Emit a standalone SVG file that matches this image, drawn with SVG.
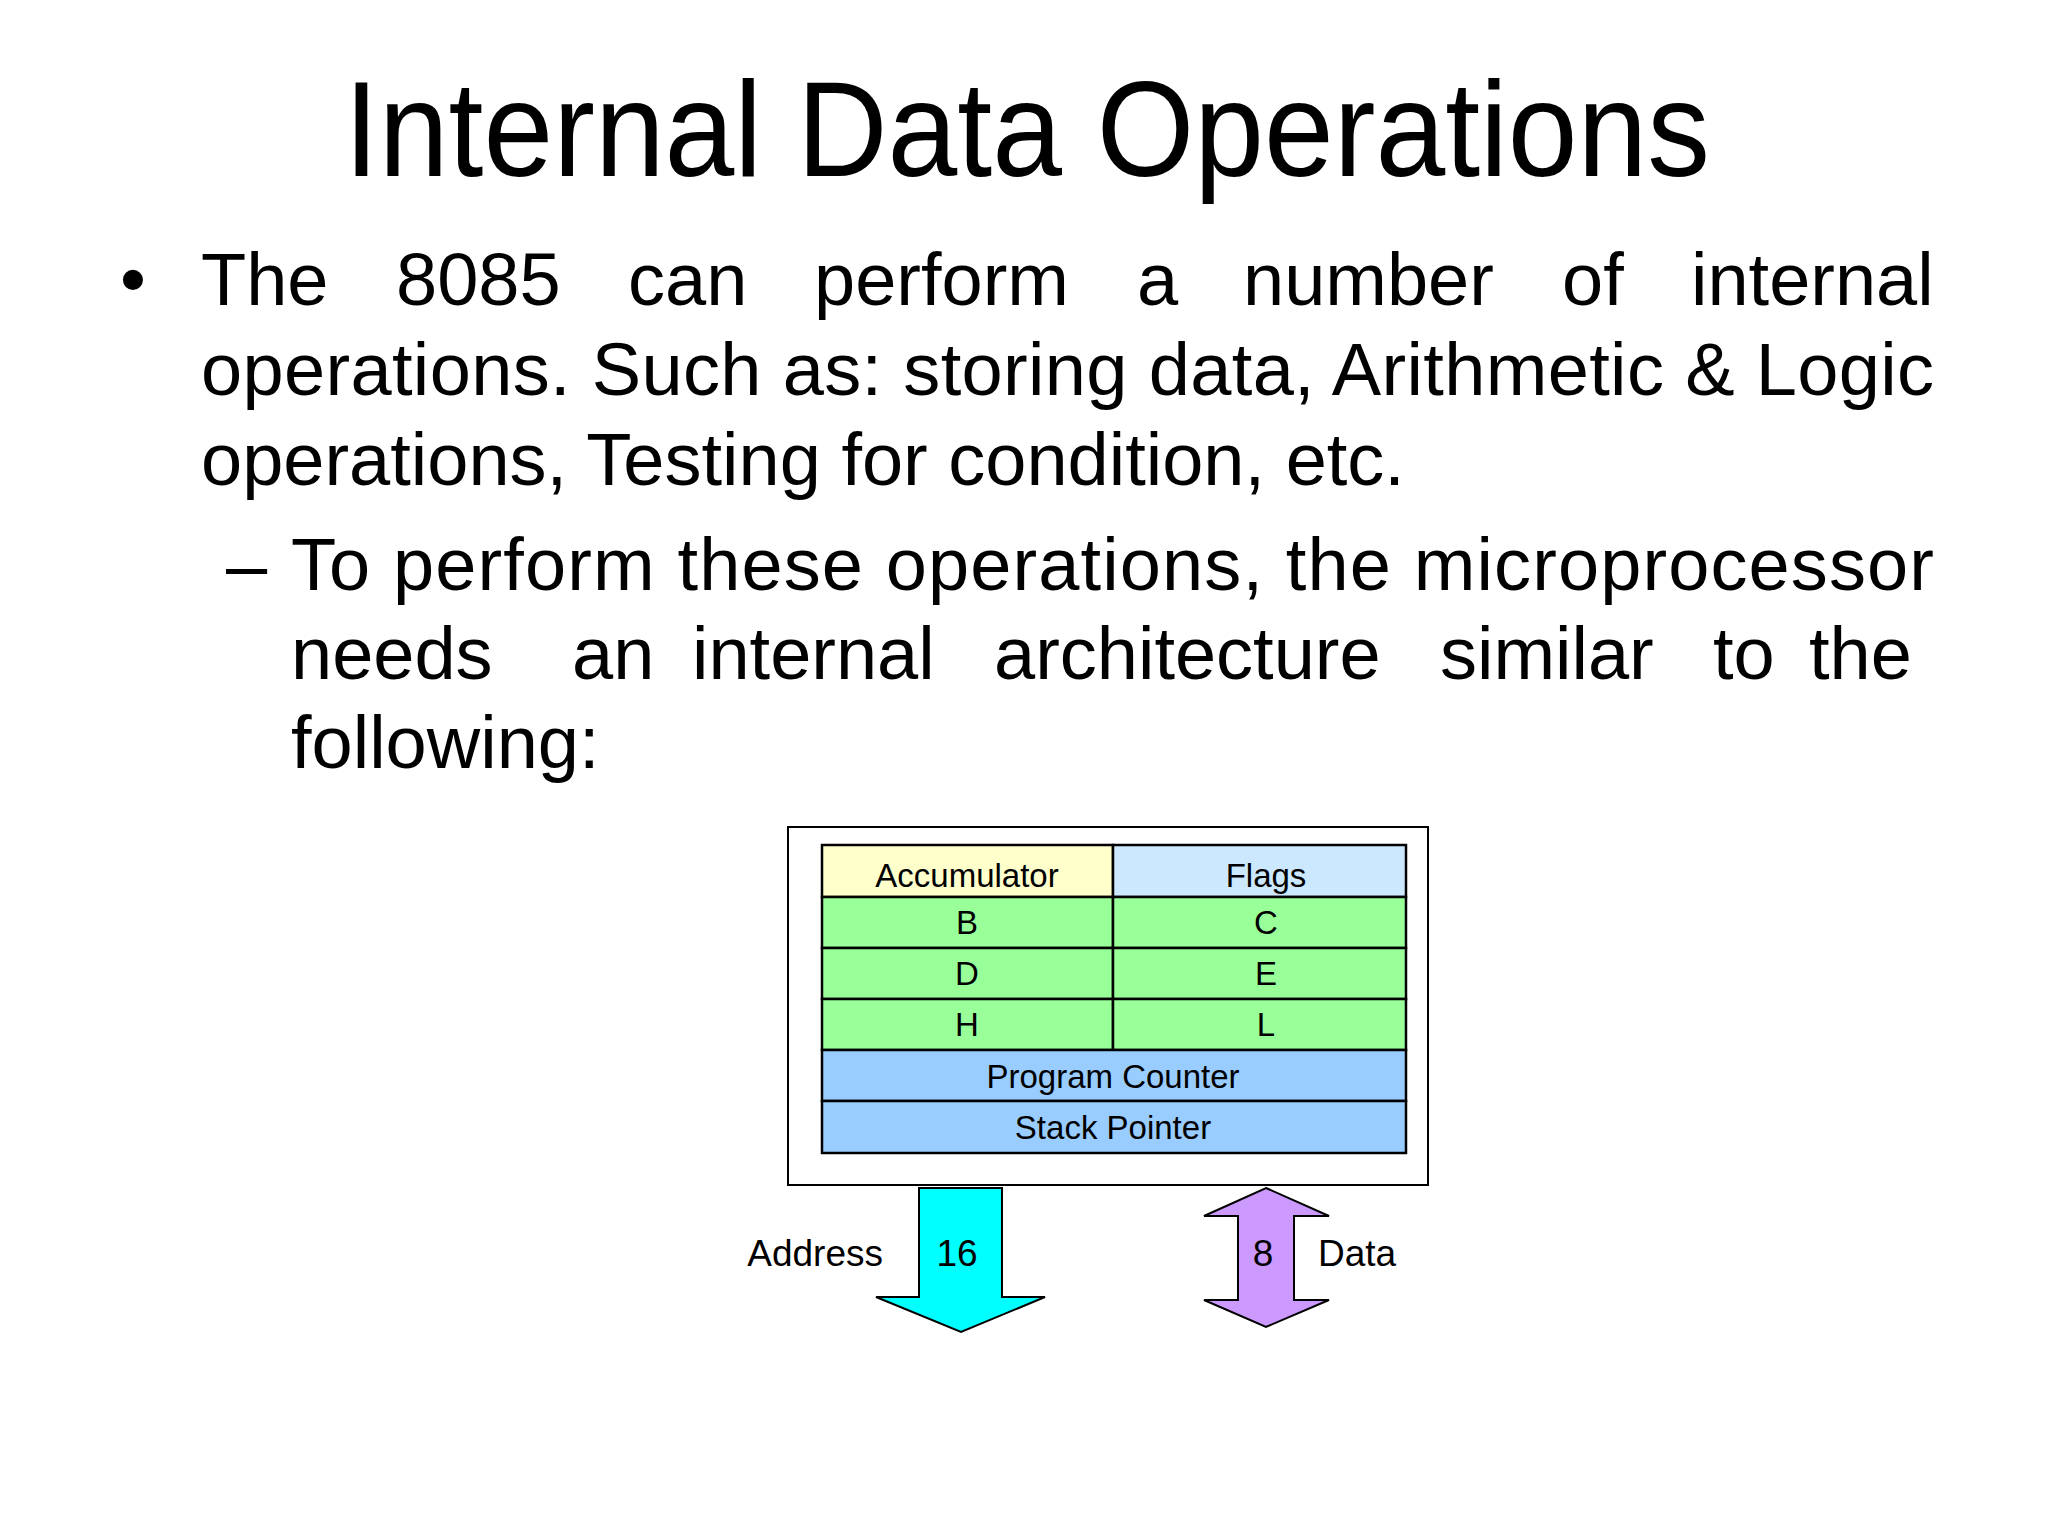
<svg xmlns="http://www.w3.org/2000/svg" width="2048" height="1536" viewBox="0 0 2048 1536">
<style>
.t{font-family:"Liberation Sans",Arial,sans-serif;fill:#000}
.b{font-size:74px}
.c{font-size:33px;text-anchor:middle}
.l{font-size:37px}
.cell{stroke:#000;stroke-width:2.5}
</style>
<rect width="2048" height="1536" fill="#fff"/>
<text class="t" x="1027" y="176" font-size="136" text-anchor="middle" textLength="1366" lengthAdjust="spacingAndGlyphs">Internal Data Operations</text>
<g id="text">
<text class="t b" x="120" y="305">•</text>
<text class="t b" y="305"><tspan x="201">The</tspan><tspan x="396">8085</tspan><tspan x="628">can</tspan><tspan x="814">perform</tspan><tspan x="1137">a</tspan><tspan x="1243">number</tspan><tspan x="1562">of</tspan><tspan x="1691">internal</tspan></text>
<text class="t b" x="201" y="395" textLength="1733" lengthAdjust="spacing">operations. Such as: storing data, Arithmetic &amp; Logic</text>
<text class="t b" x="201" y="485">operations, Testing for condition, etc.</text>
<text class="t b" x="226" y="590">–</text>
<text class="t b" x="291" y="590" textLength="1643" lengthAdjust="spacing">To perform these operations, the microprocessor</text>
<text class="t b" y="679"><tspan x="291">needs</tspan><tspan x="572">an</tspan><tspan x="692">internal</tspan><tspan x="994">architecture</tspan><tspan x="1440">similar</tspan><tspan x="1713">to</tspan><tspan x="1809">the</tspan></text>
<text class="t b" x="291" y="768">following:</text>
</g>
<g transform="translate(-4,-4)">
<g id="cpu">
<rect x="792" y="831" width="640" height="358" fill="#fff" stroke="#000" stroke-width="2"/>
</g>
<g id="acc"><rect class="cell" x="826" y="849" width="291" height="52" fill="#ffffcc"/><text class="t c" x="971" y="891">Accumulator</text></g>
<g id="flags"><rect class="cell" x="1117" y="849" width="293" height="52" fill="#cce8ff"/><text class="t c" x="1270" y="891">Flags</text></g>
<g id="B"><rect class="cell" x="826" y="901" width="291" height="51" fill="#99ff99"/><text class="t c" x="971" y="938">B</text></g>
<g id="C"><rect class="cell" x="1117" y="901" width="293" height="51" fill="#99ff99"/><text class="t c" x="1270" y="938">C</text></g>
<g id="D"><rect class="cell" x="826" y="952" width="291" height="51" fill="#99ff99"/><text class="t c" x="971" y="989">D</text></g>
<g id="E"><rect class="cell" x="1117" y="952" width="293" height="51" fill="#99ff99"/><text class="t c" x="1270" y="989">E</text></g>
<g id="H"><rect class="cell" x="826" y="1003" width="291" height="51" fill="#99ff99"/><text class="t c" x="971" y="1040">H</text></g>
<g id="L"><rect class="cell" x="1117" y="1003" width="293" height="51" fill="#99ff99"/><text class="t c" x="1270" y="1040">L</text></g>
<g id="pc"><rect class="cell" x="826" y="1054" width="584" height="51" fill="#99ccff"/><text class="t c" x="1117" y="1092">Program Counter</text></g>
<g id="sp"><rect class="cell" x="826" y="1105" width="584" height="52" fill="#99ccff"/><text class="t c" x="1117" y="1143">Stack Pointer</text></g>
<g id="connectors">
<polygon points="923,1192 1006,1192 1006,1301 1049,1301 965,1336 880,1301 923,1301" fill="#00ffff" stroke="#000" stroke-width="2"/>
<polygon points="1270,1192 1333,1220 1298,1220 1298,1304 1333,1304 1270,1331 1208,1304 1242,1304 1242,1220 1208,1220" fill="#cc99ff" stroke="#000" stroke-width="2"/>
</g>
<text class="t l" x="887" y="1270" text-anchor="end">Address</text>
<text class="t l" x="961" y="1270" text-anchor="middle">16</text>
<text class="t l" x="1267" y="1270" text-anchor="middle">8</text>
<text class="t l" x="1322" y="1270">Data</text>
</g>
</svg>
